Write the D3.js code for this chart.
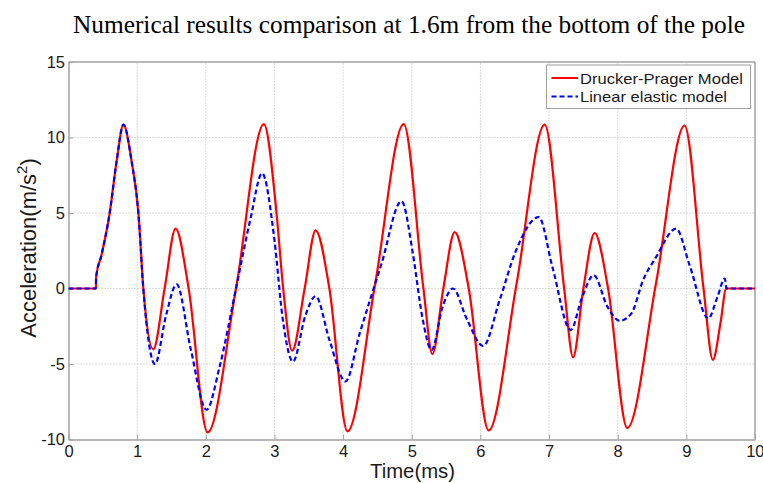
<!DOCTYPE html>
<html>
<head>
<meta charset="utf-8">
<script src="https://cdn.jsdelivr.net/npm/d3@7"></script>
<style>
  html, body { margin: 0; padding: 0; background: #fff; }
  svg { display: block; }
</style>
</head>
<body>
<svg id="chart" width="763" height="483"></svg>
<script>
// Acceleration time histories at 1.6 m above the pole base
const titleText = "Numerical results comparison at 1.6m from the bottom of the pole";
const xLabel = "Time(ms)";
const seriesNames = ["Drucker-Prager Model", "Linear elastic model"];
const xTicks = [0, 1, 2, 3, 4, 5, 6, 7, 8, 9, 10];
const yTicks = [-10, -5, 0, 5, 10, 15];

// [time (ms), acceleration (m/s^2)]
const druckerPrager = [
  [0, 0], [0.399, 0], [0.402, 0.75], [0.48, 2.2], [0.6, 5.0], [0.7, 8.4], [0.8, 10.85],
  [0.92, 8.4], [1.02, 4.9], [1.09, 0], [1.235, -4.03], [1.40, 0], [1.56, 3.96],
  [1.75, 0], [2.026, -9.53], [2.44, 0], [2.846, 10.89], [3.03, 5.0], [3.127, 0],
  [3.258, -4.12], [3.44, 0], [3.60, 3.85], [3.80, 0], [4.064, -9.46], [4.47, 0.4],
  [4.883, 10.89], [5.17, 0], [5.30, -4.34], [5.46, 0], [5.626, 3.74], [5.83, 0],
  [6.12, -9.4], [6.53, 0.4], [6.936, 10.85], [7.22, 0], [7.35, -4.56], [7.50, 0],
  [7.664, 3.67], [7.86, 0], [8.14, -9.24], [8.56, 0.4], [8.974, 10.78], [9.25, 0],
  [9.386, -4.73], [9.50, -2.2], [9.58, 0], [10, 0]
];

const linearElastic = [
  [0, 0], [0.399, 0], [0.402, 0.75], [0.48, 2.2], [0.6, 5.0], [0.7, 8.4], [0.8, 10.85],
  [0.92, 8.4], [1.02, 4.9], [1.09, 0], [1.26, -5.0], [1.42, -1.8], [1.575, 0.28],
  [1.78, -4.0], [2.01, -8.03], [2.2, -5.2], [2.44, 0], [2.65, 4.6], [2.82, 7.63],
  [3.0, 3.2], [3.12, -2.0], [3.27, -4.84], [3.45, -1.8], [3.60, -0.51], [3.80, -3.4],
  [4.035, -6.16], [4.24, -3.0], [4.56, 1.65], [4.85, 5.78], [5.02, 2.2], [5.15, -1.8],
  [5.29, -4.07], [5.45, -1.2], [5.60, 0.0], [5.80, -2.0], [6.04, -3.81], [6.28, -0.77],
  [6.52, 2.53], [6.85, 4.73], [7.05, 1.4], [7.315, -2.75], [7.48, -0.6], [7.65, 0.88],
  [7.85, -1.2], [8.03, -2.14], [8.2, -1.65], [8.37, 0.55], [8.56, 2.09], [8.85, 3.96],
  [9.05, 1.5], [9.32, -1.98], [9.45, -0.6], [9.56, 0.66], [9.585, 0], [10, 0]
];

const svg = d3.select("#chart");
const margin = { left: 68.5, right: 8, top: 62, bottom: 43.5 };
const W = 763, H = 483;
const x = d3.scaleLinear().domain([0, 10]).range([margin.left, W - margin.right]);
const y = d3.scaleLinear().domain([-10, 15]).range([H - margin.bottom, margin.top]);

const axisColor = "#a0a0a0";
const labelFont = "'Liberation Sans', Arial, sans-serif";
const plain = d => String(d); // hyphen-minus for negatives

// grid
const grid = svg.append("g");
grid.selectAll("line.gx").data(xTicks.slice(1, -1)).join("line")
  .attr("x1", d => x(d)).attr("x2", d => x(d))
  .attr("y1", y(-10)).attr("y2", y(15))
  .attr("stroke", "#b8b8b8").attr("stroke-width", 1).attr("stroke-dasharray", "1,2");
grid.selectAll("line.gy").data(yTicks.slice(1, -1)).join("line")
  .attr("x1", x(0)).attr("x2", x(10))
  .attr("y1", d => y(d)).attr("y2", d => y(d))
  .attr("stroke", "#b8b8b8").attr("stroke-width", 1).attr("stroke-dasharray", "1,2");

// axes (ticks drawn inward)
const xAxis = d3.axisBottom(x).tickValues(xTicks).tickFormat(plain)
  .tickSizeInner(-5).tickSizeOuter(0).tickPadding(6);
const yAxis = d3.axisLeft(y).tickValues(yTicks).tickFormat(plain)
  .tickSizeInner(-5).tickSizeOuter(0).tickPadding(3.5);
const gx = svg.append("g").attr("transform", `translate(0,${y(-10)})`).call(xAxis);
const gy = svg.append("g").attr("transform", `translate(${x(0)},0)`).call(yAxis);
[gx, gy].forEach(g => {
  g.select(".domain").attr("stroke", axisColor).attr("stroke-width", 1.5);
  g.selectAll(".tick line").attr("stroke", axisColor);
  g.selectAll(".tick text").attr("font-family", labelFont).attr("font-size", 16.5).attr("fill", "#1a1a1a");
});
// keep the last x label inside the page edge
gx.selectAll(".tick text").filter(d => d === 10).attr("text-anchor", "end").attr("x", 9);
// top and right frame
svg.append("line").attr("x1", x(0)).attr("x2", x(10)).attr("y1", y(15)).attr("y2", y(15))
  .attr("stroke", axisColor).attr("stroke-width", 1.5);
svg.append("line").attr("x1", x(10)).attr("x2", x(10)).attr("y1", y(15)).attr("y2", y(-10))
  .attr("stroke", axisColor).attr("stroke-width", 1.5);

// curves
svg.append("clipPath").attr("id", "plotClip").append("rect")
  .attr("x", x(0)).attr("y", y(15)).attr("width", x(10) - x(0)).attr("height", y(-10) - y(15));
const line = d3.line().x(d => x(d[0])).y(d => y(d[1])).curve(d3.curveMonotoneX);
const plot = svg.append("g").attr("clip-path", "url(#plotClip)");
plot.append("path").datum(druckerPrager).attr("d", line)
  .attr("fill", "none").attr("stroke", "#ff0000").attr("stroke-width", 2.2);
plot.append("path").datum(linearElastic).attr("d", line)
  .attr("fill", "none").attr("stroke", "#0000ff").attr("stroke-width", 2.2)
  .attr("stroke-dasharray", "5,3");

// title
svg.append("text").attr("x", 73).attr("y", 33)
  .attr("font-family", "'Liberation Serif', 'Times New Roman', serif").attr("font-size", 24.5)
  .attr("textLength", 672).attr("lengthAdjust", "spacingAndGlyphs")
  .attr("fill", "#000").text(titleText);

// axis labels
svg.append("text").attr("x", 370).attr("y", 478)
  .attr("font-family", labelFont).attr("font-size", 20)
  .attr("textLength", 85).attr("lengthAdjust", "spacingAndGlyphs")
  .attr("fill", "#1a1a1a").text(xLabel);
const yl = svg.append("text").attr("transform", `translate(36,248) rotate(-90)`)
  .attr("text-anchor", "middle").attr("font-family", labelFont).attr("font-size", 22).attr("fill", "#1a1a1a");
yl.append("tspan").text("Acceleration(m/s");
yl.append("tspan").attr("dy", -9).attr("font-size", 15).text("2");
yl.append("tspan").attr("dy", 9).text(")");

// legend
const lg = svg.append("g");
lg.append("rect").attr("x", 546.5).attr("y", 65).attr("width", 204).attr("height", 43.5)
  .attr("fill", "#fff").attr("stroke", "#a0a0a0").attr("stroke-width", 1);
const legendStyles = [{ c: "#ff0000", dash: null, len: 163 }, { c: "#0000ff", dash: "5,3", len: 147 }];
seriesNames.forEach((name, i) => {
  const cy = 78 + i * 18.5;
  lg.append("line").attr("x1", 551.5).attr("x2", 578).attr("y1", cy).attr("y2", cy)
    .attr("stroke", legendStyles[i].c).attr("stroke-width", 2)
    .attr("stroke-dasharray", legendStyles[i].dash);
  lg.append("text").attr("x", 580).attr("y", cy + 5.5).attr("font-family", labelFont)
    .attr("font-size", 15).attr("textLength", legendStyles[i].len).attr("lengthAdjust", "spacingAndGlyphs")
    .attr("fill", "#1a1a1a").text(name);
});
</script>
</body>
</html>
